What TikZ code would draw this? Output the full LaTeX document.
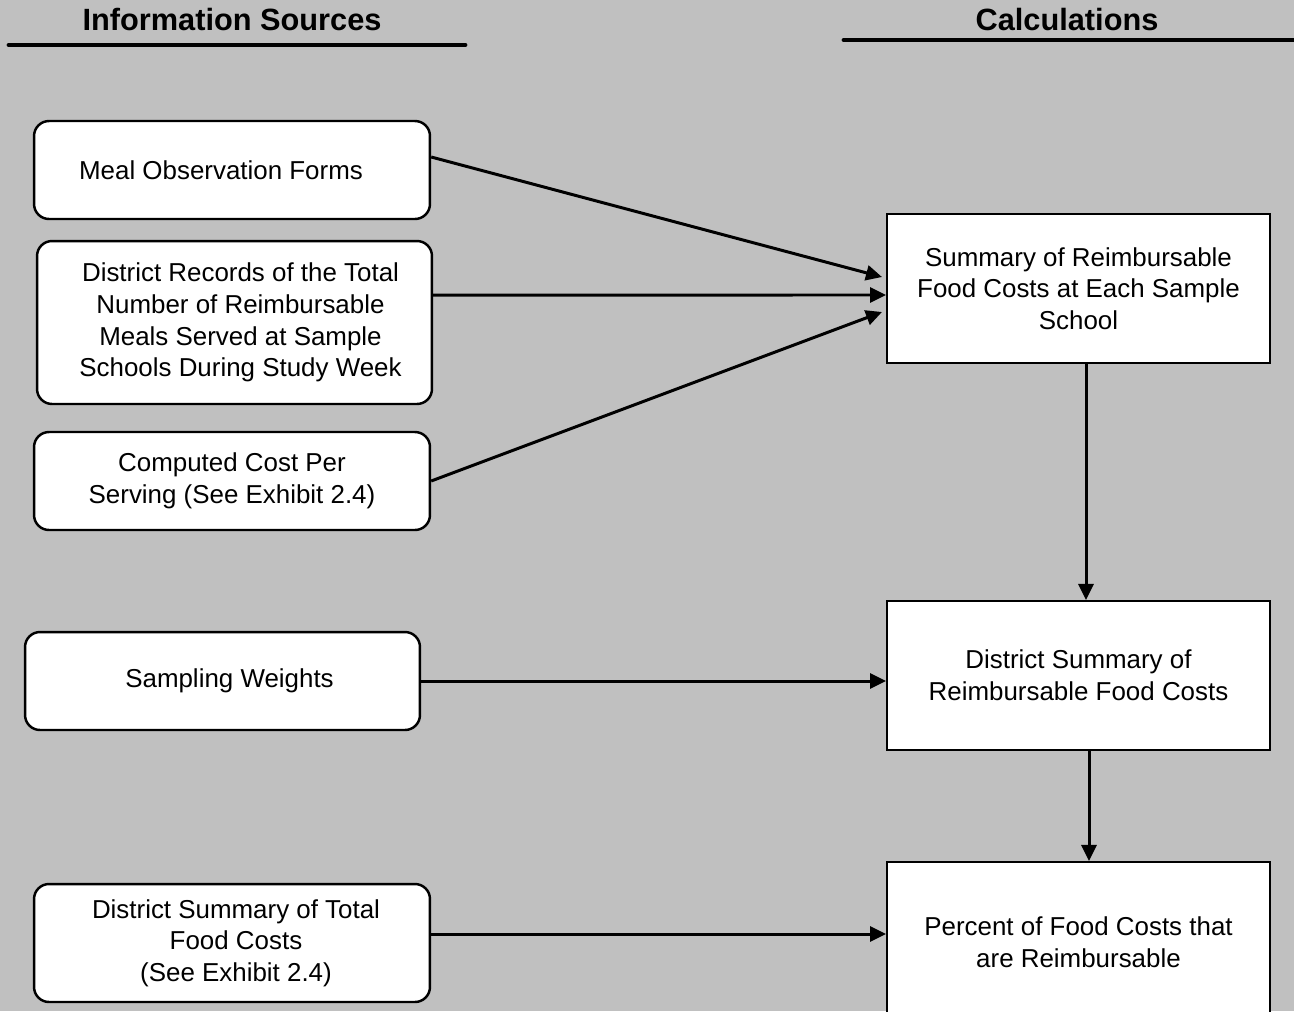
\documentclass[tikz,border=0pt]{standalone}
\usepackage{fontspec}
\setmainfont{Liberation Sans}
\usetikzlibrary{arrows.meta}
\definecolor{bg}{HTML}{C0C0C0}
\newcommand{\rs}{\hspace*{0.24cm}}
\begin{document}
\begin{tikzpicture}[x=0.02cm,y=-0.02cm,
  src/.style={draw=black,fill=white,line width=1.4pt,rounded corners=0.3cm,align=center,
    font=\fontsize{14.75}{18}\selectfont,inner sep=0pt},
  calc/.style={draw=black,fill=white,line width=1.2pt,align=center,
    font=\fontsize{14.75}{18}\selectfont,inner sep=0pt,minimum width=7.66cm},
  arr/.style={line width=1.7pt,-{Triangle[length=0.32cm,width=0.3cm]}},
  hdr/.style={font=\fontsize{17.5}{20}\selectfont\bfseries},
  uline/.style={line width=2.8pt,line cap=round}]
\useasboundingbox (0,0) rectangle (1294,1011);
\fill[bg] (0,0) rectangle (1294,1011);
% headers
\node[hdr] (h1) at (232,20) {Information Sources};
\node[hdr] (h2) at (1067,20) {Calculations};
\coordinate (u1a) at (9,45); \coordinate (u1b) at (465,45);
\coordinate (u2a) at (844,40); \coordinate (u2b) at (1300,40);
\draw[uline] (u1a) -- (u1b);
\draw[uline] (u2a) -- (u2b);
% sources
\node[src,minimum width=7.92cm,minimum height=1.96cm] (meal) at (232,170) {Meal Observation Forms\hspace*{0.44cm}};
\node[src,minimum width=7.9cm,minimum height=3.26cm] (rec) at (234.5,322.5) {\rs District Records of the Total\\\rs Number of Reimbursable\\\rs Meals Served at Sample\\\rs Schools During Study Week};
\node[src,minimum width=7.92cm,minimum height=1.96cm] (cost) at (232,481) {Computed Cost Per\\Serving (See Exhibit 2.4)};
\node[src,minimum width=7.9cm,minimum height=1.96cm] (samp) at (222.5,681) {\hspace*{0.28cm}Sampling Weights};
\node[src,minimum width=7.92cm,minimum height=2.36cm] (tot) at (232,943) {\hspace*{0.16cm}District Summary of Total\\\hspace*{0.16cm}Food Costs\\\hspace*{0.16cm}(See Exhibit 2.4)};
% calculations
\node[calc,minimum height=2.98cm] (summ) at (1078.5,288.5) {\rule{0pt}{0.12cm}Summary of Reimbursable\\Food Costs at Each Sample\\School};
\node[calc,minimum height=2.98cm] (dsum) at (1078.5,675.5) {District Summary of\\Reimbursable Food Costs};
\node[calc,minimum height=3.2cm] (pct) at (1078.5,942) {Percent of Food Costs that\\are Reimbursable};
% arrows
\coordinate (totout) at ([yshift=0.18cm]tot.east);
\draw[arr] ([yshift=0.26cm]meal.east) -- ([xshift=-0.08cm,yshift=0.23cm]summ.west);
\draw[arr] ([yshift=0.55cm]rec.east) -- ([yshift=-0.13cm]summ.west);
\draw[arr] (cost.east) -- ([xshift=-0.08cm,yshift=-0.47cm]summ.west);
\draw[arr] (samp.east) -- (dsum.west |- samp.east);
\draw[arr] (totout) -- (pct.west |- totout);
\draw[arr] ([xshift=0.15cm]summ.south) -- ([xshift=0.15cm]dsum.north);
\draw[arr] ([xshift=0.21cm]dsum.south) -- ([xshift=0.21cm]pct.north);
\end{tikzpicture}
\end{document}
